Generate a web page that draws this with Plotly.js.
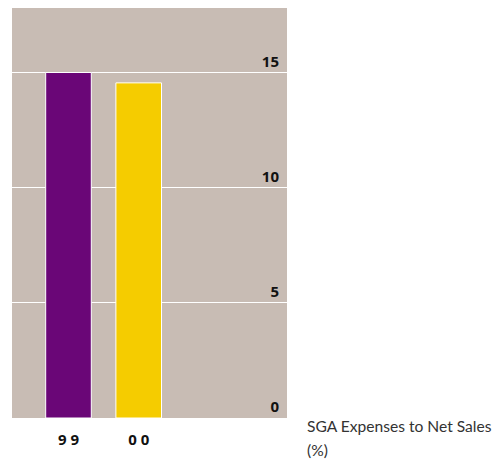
<!DOCTYPE html>
<html><head><meta charset="utf-8">
<script src="https://cdn.plot.ly/plotly-3.0.1.min.js"></script>
<style>html,body{margin:0;padding:0;background:#fff;}#chart{width:495px;height:459px;}</style>
</head><body><div id="chart"></div>
<script>
const categories = ['99', '00'];
const tickLabels = ['9 9', '0 0'];
const values = [15.0, 14.55];
const barColors = ['#6a0677', '#f5cc00'];
const yTicks = [0, 5, 10, 15];
const titleLines = ['SGA Expenses to Net Sales', '(%)'];

const trace = {
  type: 'bar',
  x: [0, 1],
  y: values,
  width: 0.65,
  marker: {color: barColors, line: {color: '#ffffff', width: 1}},
  hoverinfo: 'none'
};

const tickFont = {family: '"Open Sans", sans-serif', size: 15, color: '#111', weight: 'bold'};

const layout = {
  width: 495, height: 459,
  margin: {l: 12, r: 208, t: 8, b: 41, pad: 0},
  paper_bgcolor: '#ffffff',
  plot_bgcolor: '#c8bcb4',
  showlegend: false,
  font: {family: 'Lato, sans-serif', color: '#111'},
  xaxis: {
    range: [-0.805, 3.113],
    tickvals: [0, 1],
    ticktext: tickLabels,
    showgrid: false, zeroline: false, showline: false,
    ticks: '',
    ticklabelstandoff: 11,
    tickfont: tickFont,
    fixedrange: true
  },
  yaxis: {
    range: [0, 17.8],
    side: 'right',
    tickvals: yTicks,
    ticktext: yTicks.map(String),
    ticklabelposition: 'inside',
    ticklabelshift: -11,
    ticklabelstandoff: 5,
    showgrid: true, gridcolor: '#ffffff', gridwidth: 1,
    zeroline: true, zerolinecolor: '#ffffff', zerolinewidth: 1,
    showline: false, ticks: '',
    tickfont: tickFont,
    fixedrange: true
  },
  annotations: titleLines.map((t, i) => ({
    text: t,
    xref: 'paper', yref: 'paper',
    x: 1, xshift: 18, y: 0, yshift: i === 0 ? -8 : -32,
    xanchor: 'left', yanchor: 'middle', align: 'left',
    showarrow: false,
    font: {family: 'Lato, sans-serif', size: 15.6, color: '#333'}
  }))
};

Plotly.newPlot('chart', [trace], layout, {displayModeBar: false, staticPlot: true});
</script></body></html>
